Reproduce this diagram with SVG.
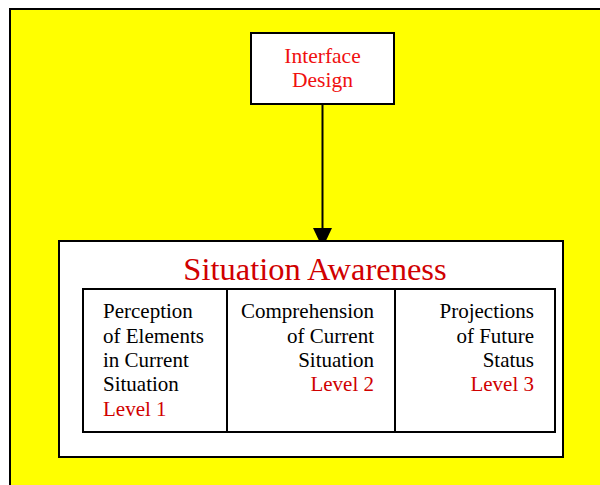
<svg xmlns="http://www.w3.org/2000/svg" width="600" height="485" viewBox="0 0 600 485">
<defs>
<style>
.box{fill:#fff;stroke:#000;stroke-width:2}
.t{font-family:"Liberation Serif","Times New Roman",serif;font-size:21px;fill:#000}
.r{fill:#d00000}
.b{fill:#f01010}
</style>
<marker id="ah" markerWidth="20" markerHeight="19" refX="20" refY="9.5" orient="auto" markerUnits="userSpaceOnUse">
<path d="M0,0 L20,9.5 L0,19 Z" fill="#000"/>
</marker>
</defs>
<rect x="10" y="9" width="600" height="490" fill="#ffff00" stroke="#000" stroke-width="2"/>
<g id="interface-design">
<rect class="box" x="251" y="33" width="143" height="71"/>
<text class="t b" x="322.5" y="63" text-anchor="middle" style="font-size:21.5px">Interface</text>
<text class="t b" x="322.5" y="87" text-anchor="middle" style="font-size:21.5px">Design</text>
</g>
<g id="connectors">
<line x1="322.5" y1="105" x2="322.5" y2="248" stroke="#000" stroke-width="2" marker-end="url(#ah)"/>
</g>
<g id="situation-awareness">
<rect class="box" x="59" y="241" width="504" height="216"/>
<text class="t r" x="315" y="280" text-anchor="middle" style="font-size:32.5px">Situation Awareness</text>
<rect class="box" x="83" y="289" width="472" height="143"/>
<line x1="227" y1="289" x2="227" y2="432" stroke="#000" stroke-width="2"/>
<line x1="395" y1="289" x2="395" y2="432" stroke="#000" stroke-width="2"/>
</g>
<g id="level1">
<text class="t" x="103" y="318">Perception</text>
<text class="t" x="103" y="342.5">of Elements</text>
<text class="t" x="103" y="367">in Current</text>
<text class="t" x="103" y="391">Situation</text>
<text class="t r" x="103" y="416">Level 1</text>
</g>
<g id="level2">
<text class="t" x="374" y="318" text-anchor="end">Comprehension</text>
<text class="t" x="374" y="342.5" text-anchor="end">of Current</text>
<text class="t" x="374" y="367" text-anchor="end">Situation</text>
<text class="t r" x="374" y="391" text-anchor="end">Level 2</text>
</g>
<g id="level3">
<text class="t" x="534" y="318" text-anchor="end">Projections</text>
<text class="t" x="534" y="342.5" text-anchor="end">of Future</text>
<text class="t" x="534" y="367" text-anchor="end">Status</text>
<text class="t r" x="534" y="391" text-anchor="end">Level 3</text>
</g>
</svg>
